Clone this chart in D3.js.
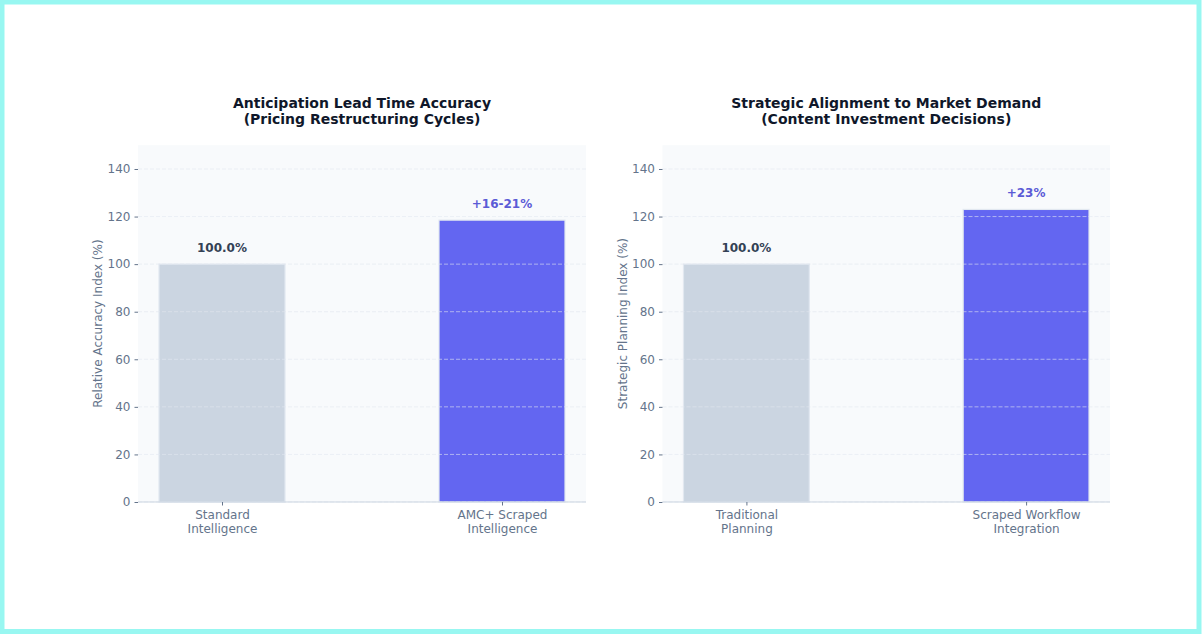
<!DOCTYPE html>
<html><head><meta charset="utf-8">
<script src="https://cdn.jsdelivr.net/npm/d3@7"></script>
<style>body{margin:0;background:#fff;}svg{display:block;font-family:"DejaVu Sans",sans-serif;}</style>
</head><body><svg id="c" width="1202" height="634"></svg>
<script>
const titles1 = ["Anticipation Lead Time Accuracy", "(Pricing Restructuring Cycles)"];
const categories1 = [["Standard", "Intelligence"], ["AMC+ Scraped", "Intelligence"]];
const values1 = [100, 118.5];
const labels1 = ["100.0%", "+16-21%"];
const ylabel1 = "Relative Accuracy Index (%)";

const titles2 = ["Strategic Alignment to Market Demand", "(Content Investment Decisions)"];
const categories2 = [["Traditional", "Planning"], ["Scraped Workflow", "Integration"]];
const values2 = [100, 123];
const labels2 = ["100.0%", "+23%"];
const ylabel2 = "Strategic Planning Index (%)";

const yTicks = [0, 20, 40, 60, 80, 100, 120, 140];
const barColors = ["#cbd5e1", "#6366f1"];
const labelColors = ["#334155", "#5b5bd6"];

const svg = d3.select("#c");
// border
svg.append("rect").attr("x",2).attr("y",2).attr("width",1202-5).attr("height",634-4.5)
  .attr("fill","none").attr("stroke","#98f7f1").attr("stroke-width",5);

function panel(left, right, titles, cats, vals, labels, ylabel) {
  const top = 145.2, bottom = 502;
  const y = d3.scaleLinear().domain([0,150]).range([bottom, top]);
  const x = d3.scaleLinear().domain([-0.3, 1.3]).range([left, right]);
  const bw = 0.45;
  const g = svg.append("g");
  g.append("rect").attr("x",left).attr("y",top).attr("width",right-left).attr("height",bottom-top).attr("fill","#f8fafc");
  // bars
  g.selectAll("rect.bar").data(vals).join("rect").attr("class","bar")
    .attr("x",(d,i)=>x(i-bw/2)).attr("width",x(bw)-x(0))
    .attr("y",d=>y(d)).attr("height",d=>y(0)-y(d))
    .attr("fill",(d,i)=>barColors[i]).attr("stroke","#e2e8f0").attr("stroke-width",1.2);
  // grid on top
  g.selectAll("line.grid").data(yTicks).join("line").attr("class","grid")
    .attr("x1",left).attr("x2",right).attr("y1",d=>y(d)).attr("y2",d=>y(d))
    .attr("stroke","#e2e8f0").attr("stroke-opacity",0.75).attr("stroke-dasharray","4,2").attr("stroke-width",0.8);
  // y axis
  const ya = d3.axisLeft(y).tickValues(yTicks).tickSize(3.5).tickPadding(4);
  const yg = g.append("g").attr("transform",`translate(${left},0)`).call(ya);
  yg.select(".domain").remove();
  yg.selectAll(".tick line").attr("stroke","#64748b");
  yg.selectAll(".tick text").attr("fill","#64748b").style("font-size","12px").style("font-family","DejaVu Sans");
  // x axis
  const xa = d3.axisBottom(x).tickValues([0,1]).tickSize(3.5).tickFormat("");
  const xg = g.append("g").attr("transform",`translate(0,${bottom})`).call(xa);
  xg.select(".domain").attr("stroke","#cbd5e1").attr("d",`M${left},0H${right}`);
  xg.selectAll(".tick line").attr("stroke","#64748b");
  xg.selectAll(".tick").each(function(d){
    const t = d3.select(this).append("text").attr("fill","#64748b").attr("text-anchor","middle")
      .style("font-size","12px").style("font-family","DejaVu Sans");
    cats[d].forEach((s,k)=>t.append("tspan").attr("x",0).attr("y",17+k*14).text(s));
  });
  // y label
  g.append("text").attr("transform",`translate(${left-36},${(top+bottom)/2}) rotate(-90)`)
    .attr("text-anchor","middle").attr("fill","#64748b").style("font-size","12px").text(ylabel);
  // value labels
  g.selectAll("text.val").data(vals).join("text").attr("class","val")
    .attr("x",(d,i)=>x(i)).attr("y",d=>y(d)-12).attr("text-anchor","middle")
    .attr("fill",(d,i)=>labelColors[i]).style("font-size","12px").style("font-weight","bold")
    .text((d,i)=>labels[i]);
  // title
  const cx = (left+right)/2;
  titles.forEach((s,k)=>g.append("text").attr("x",cx).attr("y",108+k*16).attr("text-anchor","middle")
    .attr("fill","#0f172a").style("font-size","14px").style("font-weight","bold").text(s));
}
panel(138, 586, titles1, categories1, values1, labels1, ylabel1);
panel(662.5, 1110, titles2, categories2, values2, labels2, ylabel2);
</script></body></html>
